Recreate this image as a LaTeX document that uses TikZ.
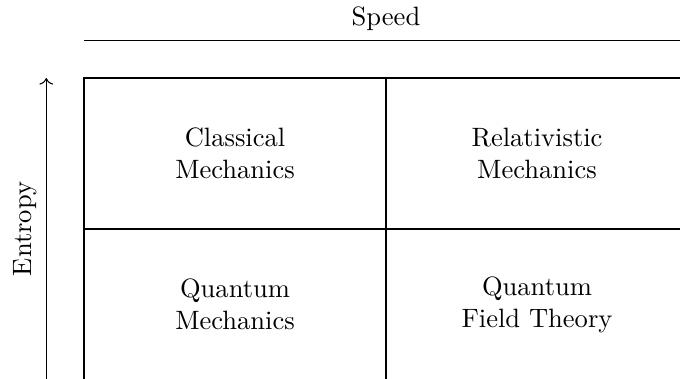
\documentclass[tikz,border=0pt]{standalone}
\usepackage{tikz}
\usetikzlibrary{arrows.meta,positioning}
\tikzset{
  cell/.style={align=center, text width=3.5cm},
  axis/.style={draw=black, line width=0.4pt}
}

\begin{document}
\begin{tikzpicture}
        \useasboundingbox (-1.113,-3.987) rectangle (7.894,1.033);
        \clip (-1.113,-3.987) rectangle (7.894,1.033);
        % the four quadrants
        \draw (0,0) rectangle (8,-4);
        \draw (4,0) -- (4,-4);
        \draw (0,-2) -- (8,-2);
        \node[cell] (classical) at (2,-1) {Classical\\Mechanics};
        \node[cell] (relativistic) at (6,-1) {Relativistic\\Mechanics};
        \node[cell] (quantum) at (2,-3) {Quantum\\Mechanics};
        \node[cell] (qft) at (6,-3) {Quantum\\Field Theory};
        % axes
        \coordinate (speedL) at (0,0.5);
        \coordinate (speedR) at (8,0.5);
        \coordinate (entropyB) at (-0.5,-4);
        \coordinate (entropyT) at (-0.5,0);
        \draw[axis] (speedL) -- (speedR) node[midway, above] (speed) {Speed};
        \draw[axis, ->] (entropyB) -- (entropyT) node[midway, above, sloped] (entropy) {Entropy};
      \end{tikzpicture}
\end{document}
